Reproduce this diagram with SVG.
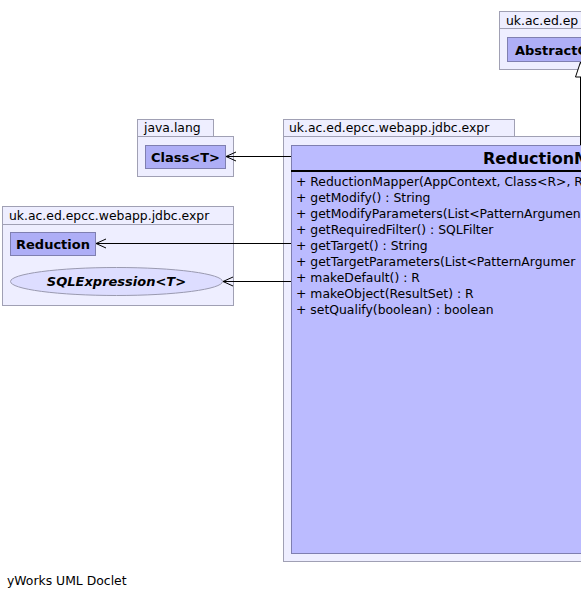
<svg xmlns="http://www.w3.org/2000/svg" width="581" height="599" viewBox="0 0 581 599">
<style>
.pkg{fill:#EEEEFF;stroke:#A0A0B4;stroke-width:1}
.cls{fill:#AEAEF6;stroke:#7F7FB0;stroke-width:1}
.main{fill:#BBBBFF;stroke:#7F7FB0;stroke-width:1}
.ell{fill:#DDDDFF;stroke:#9A9AB0;stroke-width:1}
.lbl{font-family:"DejaVu Sans",sans-serif;font-size:12.4px;fill:#000}
.cn{font-family:"DejaVu Sans",sans-serif;font-size:13px;font-weight:bold;fill:#000}
.title{font-family:"DejaVu Sans",sans-serif;font-size:16px;font-weight:bold;fill:#000}
.mt{font-family:"DejaVu Sans",sans-serif;font-size:12.4px;fill:#000}
.edge{fill:none;stroke:#000;stroke-width:1}
</style>
<rect width="581" height="599" fill="#FFFFFF"/>
<g id="pkg-top">
<rect class="pkg" x="499.5" y="11.5" width="100" height="17"/>
<rect class="pkg" x="499.5" y="28.5" width="100" height="41"/>
<text class="lbl" x="506" y="25">uk.ac.ed.ep</text>
</g>
<g id="AbstractC">
<rect class="cls" x="507.5" y="37.5" width="100" height="24"/>
<text class="cn" x="515" y="54.5">AbstractC</text>
</g>
<g id="pkg-java-lang">
<rect class="pkg" x="137.5" y="119.5" width="76" height="17"/>
<rect class="pkg" x="137.5" y="136.5" width="96" height="40"/>
<text class="lbl" x="144" y="132">java.lang</text>
</g>
<g id="ClassT">
<rect class="cls" x="145.5" y="145.5" width="80" height="23"/>
<text class="cn" x="185.5" y="161.5" text-anchor="middle">Class&lt;T&gt;</text>
</g>
<g id="pkg-expr-left">
<rect class="pkg" x="2.5" y="206.5" width="231" height="18"/>
<rect class="pkg" x="2.5" y="224.5" width="231" height="81"/>
<text class="lbl" x="9" y="220">uk.ac.ed.epcc.webapp.jdbc.expr</text>
</g>
<g id="Reduction">
<rect class="cls" x="10.5" y="232.5" width="85" height="23"/>
<text class="cn" x="53" y="248.5" text-anchor="middle">Reduction</text>
</g>
<g id="SQLExpression">
<ellipse class="ell" cx="116.5" cy="281.5" rx="106" ry="14"/>
<text class="cn" x="116.5" y="286" text-anchor="middle" font-style="italic">SQLExpression&lt;T&gt;</text>
</g>
<g id="pkg-expr-main">
<rect class="pkg" x="283.5" y="119.5" width="231" height="17"/>
<rect class="pkg" x="283.5" y="136.5" width="310" height="425"/>
<text class="lbl" x="289" y="132">uk.ac.ed.epcc.webapp.jdbc.expr</text>
</g>
<g id="ReductionMapper">
<rect class="main" x="291.5" y="145.5" width="310" height="408"/>
<line x1="291" y1="171" x2="581" y2="171" stroke="#000" stroke-width="2"/>
<text class="title" x="483" y="164">ReductionM</text>
<text class="mt" x="296" y="186">+ ReductionMapper(AppContext, Class&lt;R&gt;, R</text>
<text class="mt" x="296" y="202">+ getModify() : String</text>
<text class="mt" x="296" y="218">+ getModifyParameters(List&lt;PatternArgumen</text>
<text class="mt" x="296" y="234">+ getRequiredFilter() : SQLFilter</text>
<text class="mt" x="296" y="250">+ getTarget() : String</text>
<text class="mt" x="296" y="266">+ getTargetParameters(List&lt;PatternArgumer</text>
<text class="mt" x="296" y="282">+ makeDefault() : R</text>
<text class="mt" x="296" y="298">+ makeObject(ResultSet) : R</text>
<text class="mt" x="296" y="314">+ setQualify(boolean) : boolean</text>
</g>
<g id="connectors">
<line class="edge" x1="291" y1="156.5" x2="226" y2="156.5"/>
<polyline class="edge" points="236,152 226,156.5 236,161"/>
<line class="edge" x1="291" y1="243.5" x2="96" y2="243.5"/>
<polyline class="edge" points="106,239 96,243.5 106,248"/>
<line class="edge" x1="291" y1="281.5" x2="223" y2="281.5"/>
<polyline class="edge" points="233,277 223,281.5 233,286"/>
<line class="edge" x1="580.5" y1="145" x2="580.5" y2="77"/>
<polygon points="580.5,62 575.5,77 585.5,77" fill="#FFFFFF" stroke="#000" stroke-width="1"/>
</g>
<text class="lbl" x="7" y="585">yWorks UML Doclet</text>
</svg>
